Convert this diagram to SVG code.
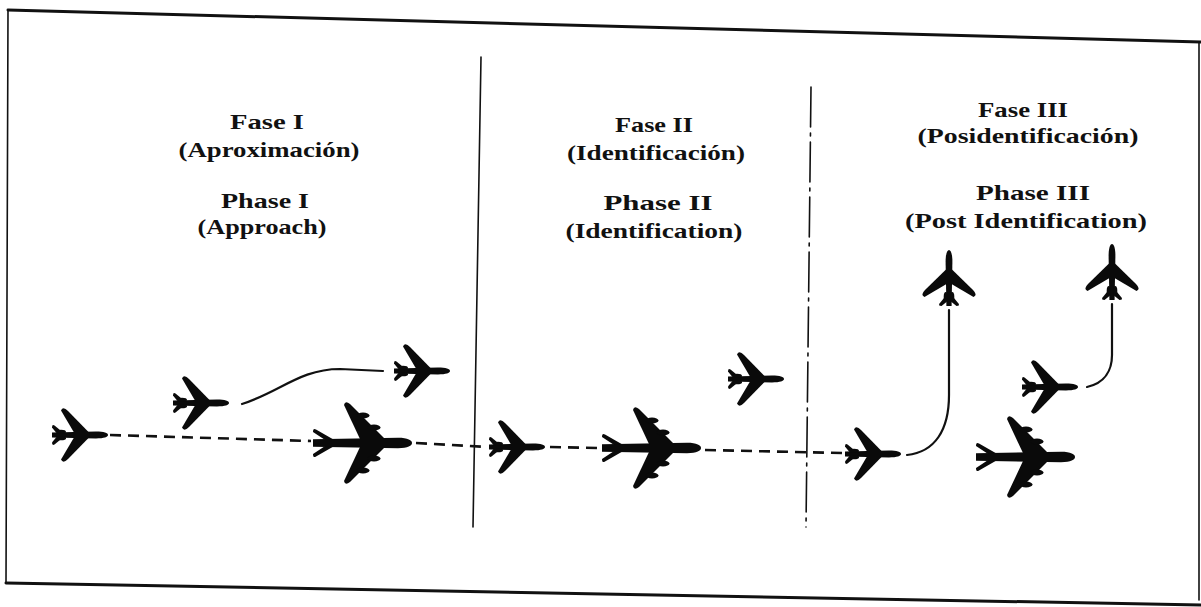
<svg xmlns="http://www.w3.org/2000/svg" width="1201" height="607" viewBox="0 0 1201 607">
  <style>
    .frame { fill: none; stroke: #111; stroke-linecap: round; }
    .lbl { font-family: "Liberation Serif", "Times New Roman", serif; font-size: 22px; font-weight: bold; fill: #111; text-anchor: middle; }
    .ink { fill: #0a0a0a; }
    .track { fill: none; stroke: #111; stroke-width: 2.6; stroke-dasharray: 11 7; }
    .turn { fill: none; stroke: #111; stroke-width: 2.2; stroke-linecap: round; }
  </style>
  <defs>
    <!-- small jet, tail at origin, nose pointing +x -->
    <g id="jet" class="ink">
      <path d="M1,-2.6 L45,-3.4 C53,-3.4 57,-1.9 57,0 C57,1.9 53,3.4 45,3.4 L1,2.6 Z"/>
      <path d="M38,-2.5 L17,-24 Q12,-29 10,-24.5 L23,-2.5 Z"/>
      <path d="M38,2.5 L17,24 Q12,29 10,24.5 L23,2.5 Z"/>
      <path d="M12,-2.5 L3.5,-9.5 Q1,-11 1,-7.5 L5,-2.5 Z"/>
      <path d="M12,2.5 L3.5,9.5 Q1,11 1,7.5 L5,2.5 Z"/>
      <ellipse cx="10" cy="-3.2" rx="5" ry="2.1"/>
      <ellipse cx="10" cy="3.2" rx="5" ry="2.1"/>
    </g>
    <!-- four-engine airliner, tail at origin, nose pointing +x -->
    <g id="liner" class="ink">
      <path d="M1,-3.8 L86,-5.2 C96,-5.2 100,-2.6 100,0 C100,2.6 96,5.2 86,5.2 L1,3.8 Z"/>
      <path d="M73,-4 L38,-39 Q33,-43 32,-38 L48,-4 Z"/>
      <path d="M73,4 L38,39 Q33,43 32,38 L48,4 Z"/>
      <ellipse cx="62" cy="-15.5" rx="6.5" ry="3"/>
      <ellipse cx="51" cy="-27.5" rx="6.5" ry="3"/>
      <ellipse cx="62" cy="15.5" rx="6.5" ry="3"/>
      <ellipse cx="51" cy="27.5" rx="6.5" ry="3"/>
      <path d="M21,-3.8 L4,-13.5 Q1,-15.5 1,-11 L12,-3.8 Z"/>
      <path d="M21,3.8 L4,13.5 Q1,15.5 1,11 L12,3.8 Z"/>
    </g>
  </defs>

  <rect width="1201" height="607" fill="#fff"/>

  <!-- outer frame -->
  <g id="frame">
    <path class="frame" stroke-width="3" d="M8,10 L1201,42"/>
    <path class="frame" stroke-width="3" d="M6,583 L1201,605"/>
    <path class="frame" stroke-width="1.6" d="M8,10 L6,583"/>
    <path class="frame" stroke-width="1.6" d="M1199,42 L1199,600"/>
  </g>

  <!-- phase boundaries -->
  <g id="dividers">
    <path class="frame" stroke-width="1.6" d="M481,57 L473,527"/>
    <path class="frame" stroke-width="1.6" stroke-dasharray="40 6 3 6" d="M811,87 L806,527"/>
  </g>

  <!-- phase headings -->
  <g id="phase1-label">
    <text class="lbl" x="267" y="129" textLength="74" lengthAdjust="spacingAndGlyphs">Fase I</text>
    <text class="lbl" x="269" y="157" textLength="181" lengthAdjust="spacingAndGlyphs">(Aproximación)</text>
    <text class="lbl" x="265" y="208" textLength="88" lengthAdjust="spacingAndGlyphs">Phase I</text>
    <text class="lbl" x="262" y="234" textLength="129" lengthAdjust="spacingAndGlyphs">(Approach)</text>
  </g>
  <g id="phase2-label">
    <text class="lbl" x="654" y="132" textLength="78" lengthAdjust="spacingAndGlyphs">Fase II</text>
    <text class="lbl" x="656" y="160" textLength="178" lengthAdjust="spacingAndGlyphs">(Identificación)</text>
    <text class="lbl" x="658" y="210" textLength="109" lengthAdjust="spacingAndGlyphs">Phase II</text>
    <text class="lbl" x="654" y="238" textLength="177" lengthAdjust="spacingAndGlyphs">(Identification)</text>
  </g>
  <g id="phase3-label">
    <text class="lbl" x="1023" y="117" textLength="90" lengthAdjust="spacingAndGlyphs">Fase III</text>
    <text class="lbl" x="1028" y="143" textLength="221" lengthAdjust="spacingAndGlyphs">(Posidentificación)</text>
    <text class="lbl" x="1033" y="200" textLength="114" lengthAdjust="spacingAndGlyphs">Phase III</text>
    <text class="lbl" x="1026" y="228" textLength="242" lengthAdjust="spacingAndGlyphs">(Post Identification)</text>
  </g>

  <!-- flight paths -->
  <g id="connectors">
    <path class="track" d="M110,435 L311,441"/>
    <path class="track" d="M416,443 L487,447"/>
    <path class="track" d="M550,447 L600,448"/>
    <path class="track" d="M705,450 L842,453"/>
    <path class="turn" d="M242,404 C280,392 300,369 340,369 L383,371"/>
    <path class="turn" d="M907,455 C935,452 949,430 949,395 L949,310"/>
    <path class="turn" d="M1087,387 C1105,383 1112,370 1112,355 L1112,304"/>
  </g>

  <!-- aircraft -->
  <g id="jet-a" transform="translate(51,435)"><use href="#jet"/></g>
  <g id="jet-b" transform="translate(172,403)"><use href="#jet"/></g>
  <g id="jet-c" transform="translate(393,371)"><use href="#jet"/></g>
  <g id="liner-a" transform="translate(312,443)"><use href="#liner"/></g>
  <g id="jet-d" transform="translate(488,447)"><use href="#jet"/></g>
  <g id="liner-b" transform="translate(601,448)"><use href="#liner"/></g>
  <g id="jet-e" transform="translate(727,379)"><use href="#jet"/></g>
  <g id="jet-f" transform="translate(844,454)"><use href="#jet"/></g>
  <g id="jet-g" transform="translate(949,307) rotate(-90)"><use href="#jet"/></g>
  <g id="jet-h" transform="translate(1021,387)"><use href="#jet"/></g>
  <g id="jet-i" transform="translate(1112,301) rotate(-90)"><use href="#jet"/></g>
  <g id="liner-c" transform="translate(975,457)"><use href="#liner"/></g>
</svg>
